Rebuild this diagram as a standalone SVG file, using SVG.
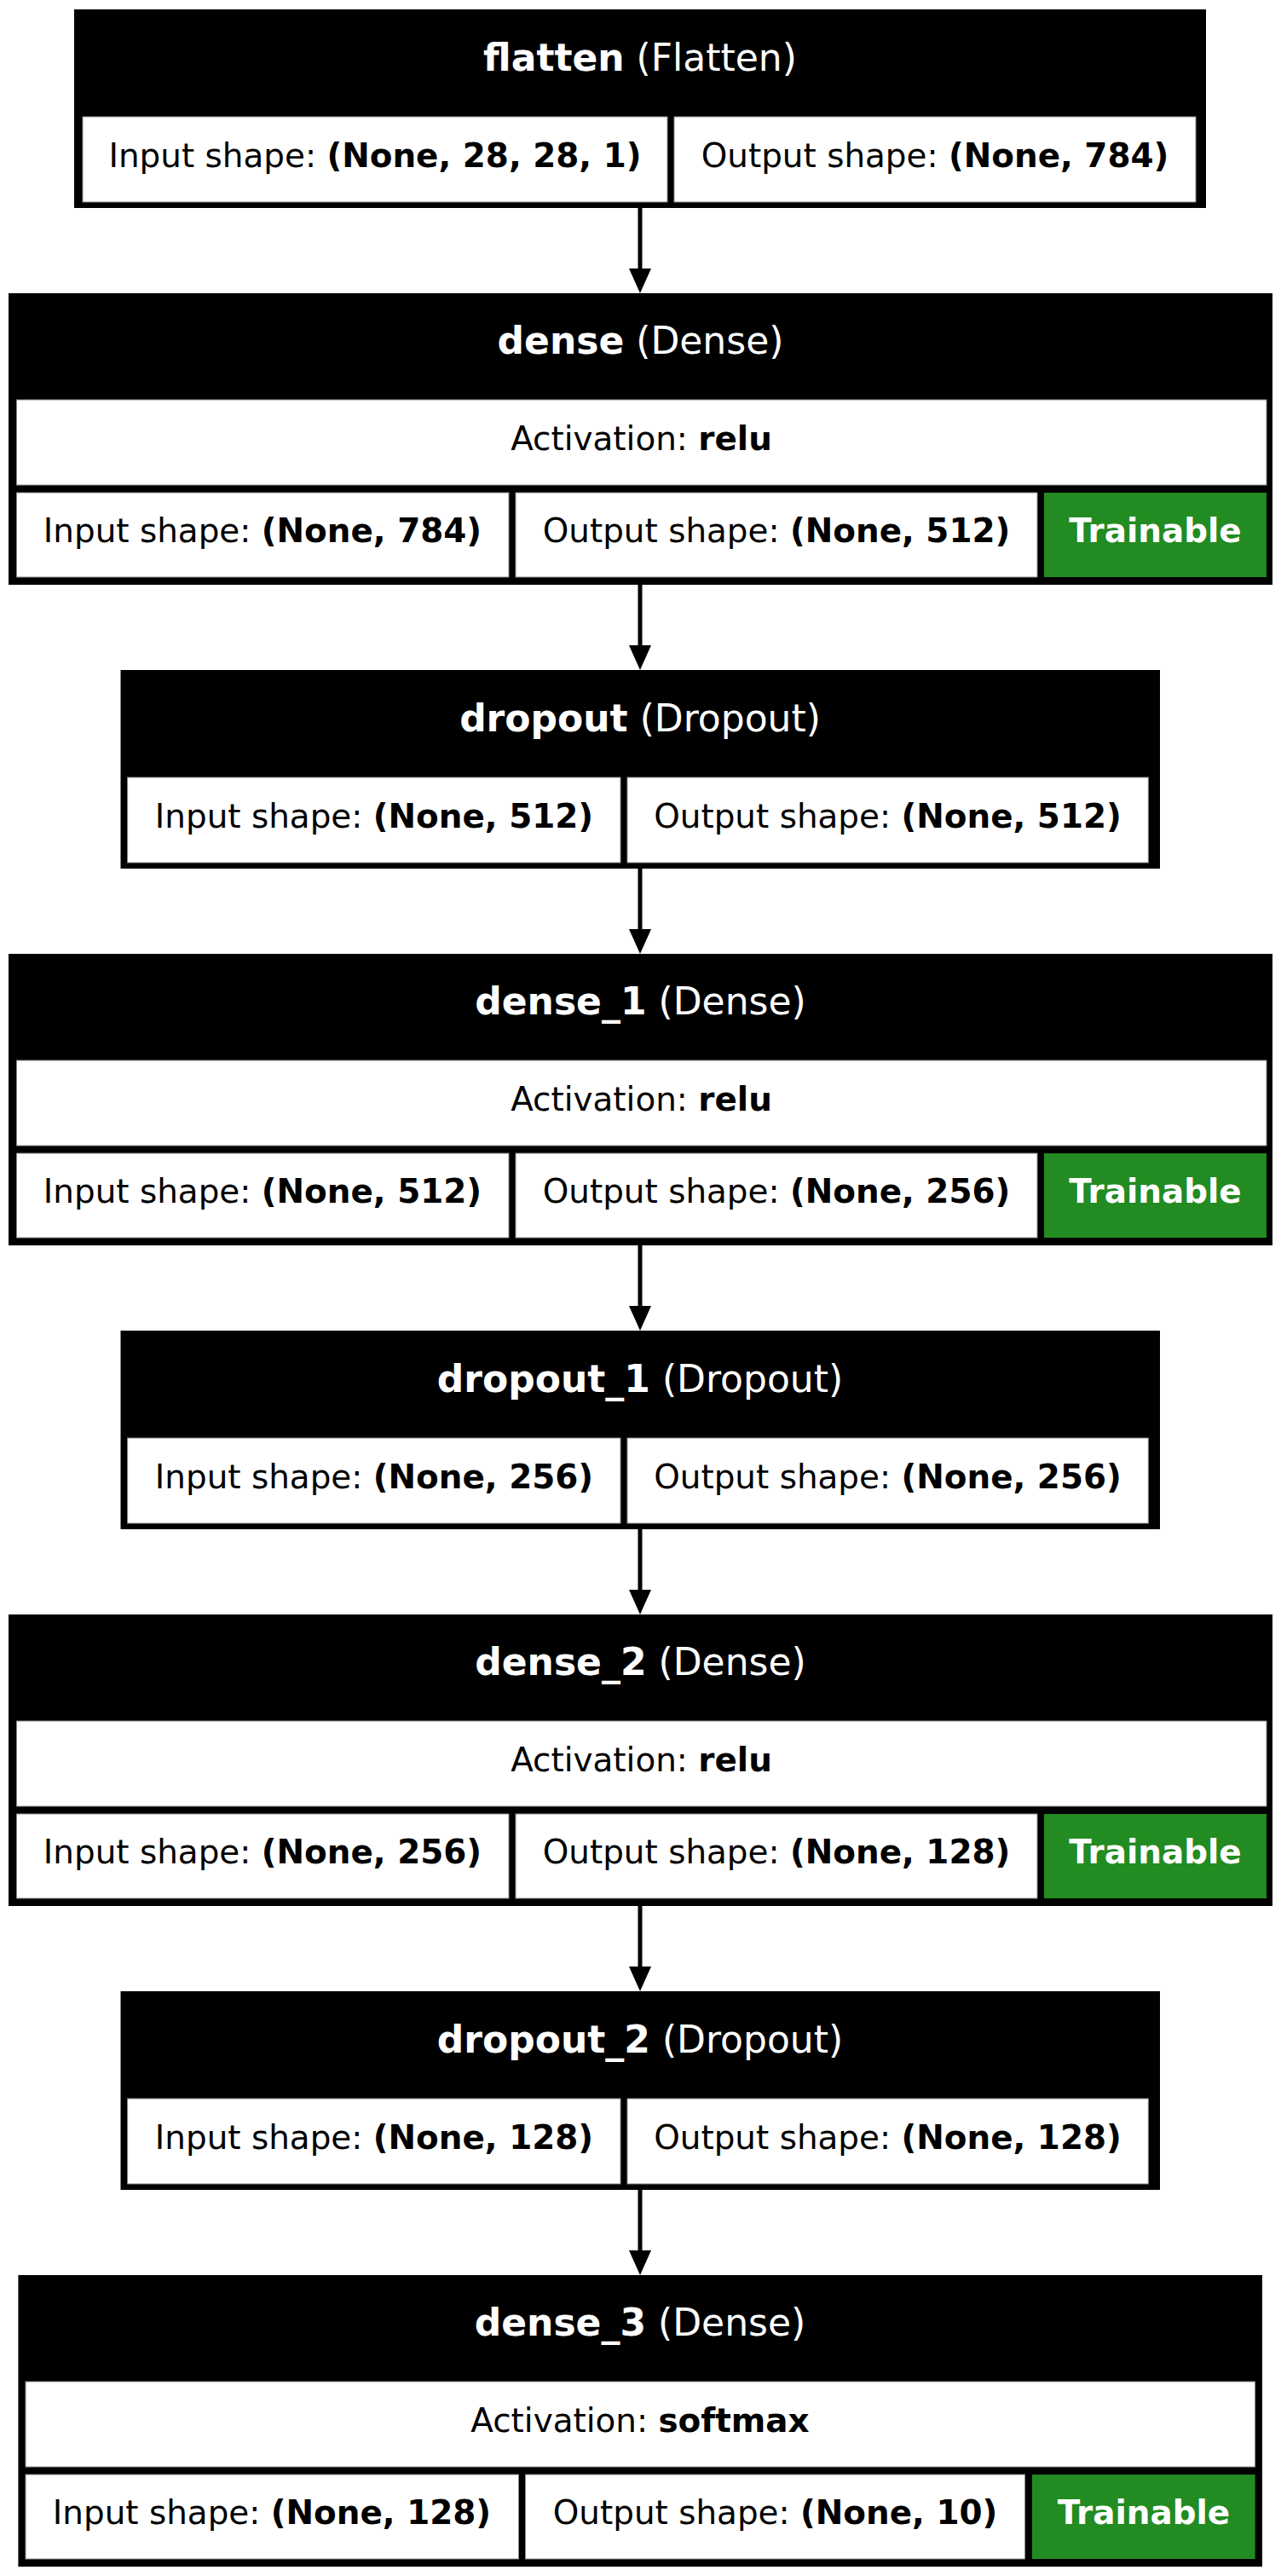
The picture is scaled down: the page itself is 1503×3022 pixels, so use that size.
<svg xmlns="http://www.w3.org/2000/svg" width="1503" height="3022" viewBox="0 0 1503 3022">
<style>
.box{fill:#000}
.cell{fill:#fff;stroke:#8c8c8c;stroke-width:1}
.tr{fill:#228b22}
.h{font-family:"DejaVu Sans",sans-serif;font-size:44px;fill:#fff;text-anchor:middle}
.t{font-family:"DejaVu Sans",sans-serif;font-size:38.9px;fill:#000;text-anchor:middle}
.tw{font-family:"DejaVu Sans",sans-serif;font-size:38.9px;fill:#fff;text-anchor:middle;font-weight:bold}
.b{font-weight:bold}
.edge{stroke:#000;stroke-width:5;fill:none}
.head{fill:#000}
</style>
<rect width="1503" height="3022" fill="#fff"/>

<g id="connectors">
  <line class="edge" x1="751" y1="244" x2="751" y2="318"/><polygon class="head" points="738,315 764,315 751,344"/>
  <line class="edge" x1="751" y1="686" x2="751" y2="760"/><polygon class="head" points="738,757 764,757 751,786"/>
  <line class="edge" x1="751" y1="1019" x2="751" y2="1093"/><polygon class="head" points="738,1090 764,1090 751,1119"/>
  <line class="edge" x1="751" y1="1461" x2="751" y2="1535"/><polygon class="head" points="738,1532 764,1532 751,1561"/>
  <line class="edge" x1="751" y1="1794" x2="751" y2="1868"/><polygon class="head" points="738,1865 764,1865 751,1894"/>
  <line class="edge" x1="751" y1="2236" x2="751" y2="2310"/><polygon class="head" points="738,2307 764,2307 751,2336"/>
  <line class="edge" x1="751" y1="2569" x2="751" y2="2643"/><polygon class="head" points="738,2640 764,2640 751,2669"/>
</g>

<g id="flatten" transform="translate(0,11)">
  <rect class="box" x="87" y="0" width="1328" height="233"/>
  <rect class="cell" x="97" y="126" width="686" height="100"/>
  <rect class="cell" x="791" y="126" width="612" height="100"/>
  <text class="h" x="751" y="72"><tspan class="b">flatten</tspan> (Flatten)</text>
  <text class="t" x="440" y="184.5">Input shape: <tspan class="b">(None, 28, 28, 1)</tspan></text>
  <text class="t" x="1097" y="184.5">Output shape: <tspan class="b">(None, 784)</tspan></text>
</g>

<g id="dense" transform="translate(0,344)">
  <rect class="box" x="10" y="0" width="1483" height="342"/>
  <rect class="cell" x="19.5" y="125" width="1466.5" height="100"/>
  <rect class="cell" x="19.5" y="234" width="577.5" height="99"/>
  <rect class="cell" x="605" y="234" width="612" height="99"/>
  <rect class="tr" x="1225" y="234" width="261" height="99"/>
  <text class="h" x="751.5" y="71"><tspan class="b">dense</tspan> (Dense)</text>
  <text class="t" x="752.5" y="183.5">Activation: <tspan class="b">relu</tspan></text>
  <text class="t" x="308" y="292">Input shape: <tspan class="b">(None, 784)</tspan></text>
  <text class="t" x="911" y="292">Output shape: <tspan class="b">(None, 512)</tspan></text>
  <text class="tw" x="1355.5" y="292">Trainable</text>
</g>

<g id="dropout" transform="translate(0,786)">
  <rect class="box" x="141.5" y="0" width="1219.5" height="233"/>
  <rect class="cell" x="149.6" y="126" width="578.4" height="100"/>
  <rect class="cell" x="736" y="126" width="611.3" height="100"/>
  <text class="h" x="751" y="72"><tspan class="b">dropout</tspan> (Dropout)</text>
  <text class="t" x="439" y="184.5">Input shape: <tspan class="b">(None, 512)</tspan></text>
  <text class="t" x="1041.5" y="184.5">Output shape: <tspan class="b">(None, 512)</tspan></text>
</g>

<g id="dense_1" transform="translate(0,1119)">
  <rect class="box" x="10" y="0" width="1483" height="342"/>
  <rect class="cell" x="19.5" y="125" width="1466.5" height="100"/>
  <rect class="cell" x="19.5" y="234" width="577.5" height="99"/>
  <rect class="cell" x="605" y="234" width="612" height="99"/>
  <rect class="tr" x="1225" y="234" width="261" height="99"/>
  <text class="h" x="751.5" y="71"><tspan class="b">dense_1</tspan> (Dense)</text>
  <text class="t" x="752.5" y="183.5">Activation: <tspan class="b">relu</tspan></text>
  <text class="t" x="308" y="292">Input shape: <tspan class="b">(None, 512)</tspan></text>
  <text class="t" x="911" y="292">Output shape: <tspan class="b">(None, 256)</tspan></text>
  <text class="tw" x="1355.5" y="292">Trainable</text>
</g>

<g id="dropout_1" transform="translate(0,1561)">
  <rect class="box" x="141.5" y="0" width="1219.5" height="233"/>
  <rect class="cell" x="149.6" y="126" width="578.4" height="100"/>
  <rect class="cell" x="736" y="126" width="611.3" height="100"/>
  <text class="h" x="751" y="72"><tspan class="b">dropout_1</tspan> (Dropout)</text>
  <text class="t" x="439" y="184.5">Input shape: <tspan class="b">(None, 256)</tspan></text>
  <text class="t" x="1041.5" y="184.5">Output shape: <tspan class="b">(None, 256)</tspan></text>
</g>

<g id="dense_2" transform="translate(0,1894)">
  <rect class="box" x="10" y="0" width="1483" height="342"/>
  <rect class="cell" x="19.5" y="125" width="1466.5" height="100"/>
  <rect class="cell" x="19.5" y="234" width="577.5" height="99"/>
  <rect class="cell" x="605" y="234" width="612" height="99"/>
  <rect class="tr" x="1225" y="234" width="261" height="99"/>
  <text class="h" x="751.5" y="71"><tspan class="b">dense_2</tspan> (Dense)</text>
  <text class="t" x="752.5" y="183.5">Activation: <tspan class="b">relu</tspan></text>
  <text class="t" x="308" y="292">Input shape: <tspan class="b">(None, 256)</tspan></text>
  <text class="t" x="911" y="292">Output shape: <tspan class="b">(None, 128)</tspan></text>
  <text class="tw" x="1355.5" y="292">Trainable</text>
</g>

<g id="dropout_2" transform="translate(0,2336)">
  <rect class="box" x="141.5" y="0" width="1219.5" height="233"/>
  <rect class="cell" x="149.6" y="126" width="578.4" height="100"/>
  <rect class="cell" x="736" y="126" width="611.3" height="100"/>
  <text class="h" x="751" y="72"><tspan class="b">dropout_2</tspan> (Dropout)</text>
  <text class="t" x="439" y="184.5">Input shape: <tspan class="b">(None, 128)</tspan></text>
  <text class="t" x="1041.5" y="184.5">Output shape: <tspan class="b">(None, 128)</tspan></text>
</g>

<g id="dense_3" transform="translate(0,2669)">
  <rect class="box" x="21.4" y="0" width="1459.6" height="342"/>
  <rect class="cell" x="30" y="125" width="1442.6" height="100"/>
  <rect class="cell" x="30" y="234" width="578.5" height="99"/>
  <rect class="cell" x="616.5" y="234" width="586" height="99"/>
  <rect class="tr" x="1211" y="234" width="261.6" height="99"/>
  <text class="h" x="751" y="71"><tspan class="b">dense_3</tspan> (Dense)</text>
  <text class="t" x="751" y="183.5">Activation: <tspan class="b">softmax</tspan></text>
  <text class="t" x="319" y="292">Input shape: <tspan class="b">(None, 128)</tspan></text>
  <text class="t" x="909.5" y="292">Output shape: <tspan class="b">(None, 10)</tspan></text>
  <text class="tw" x="1342" y="292">Trainable</text>
</g>
</svg>
